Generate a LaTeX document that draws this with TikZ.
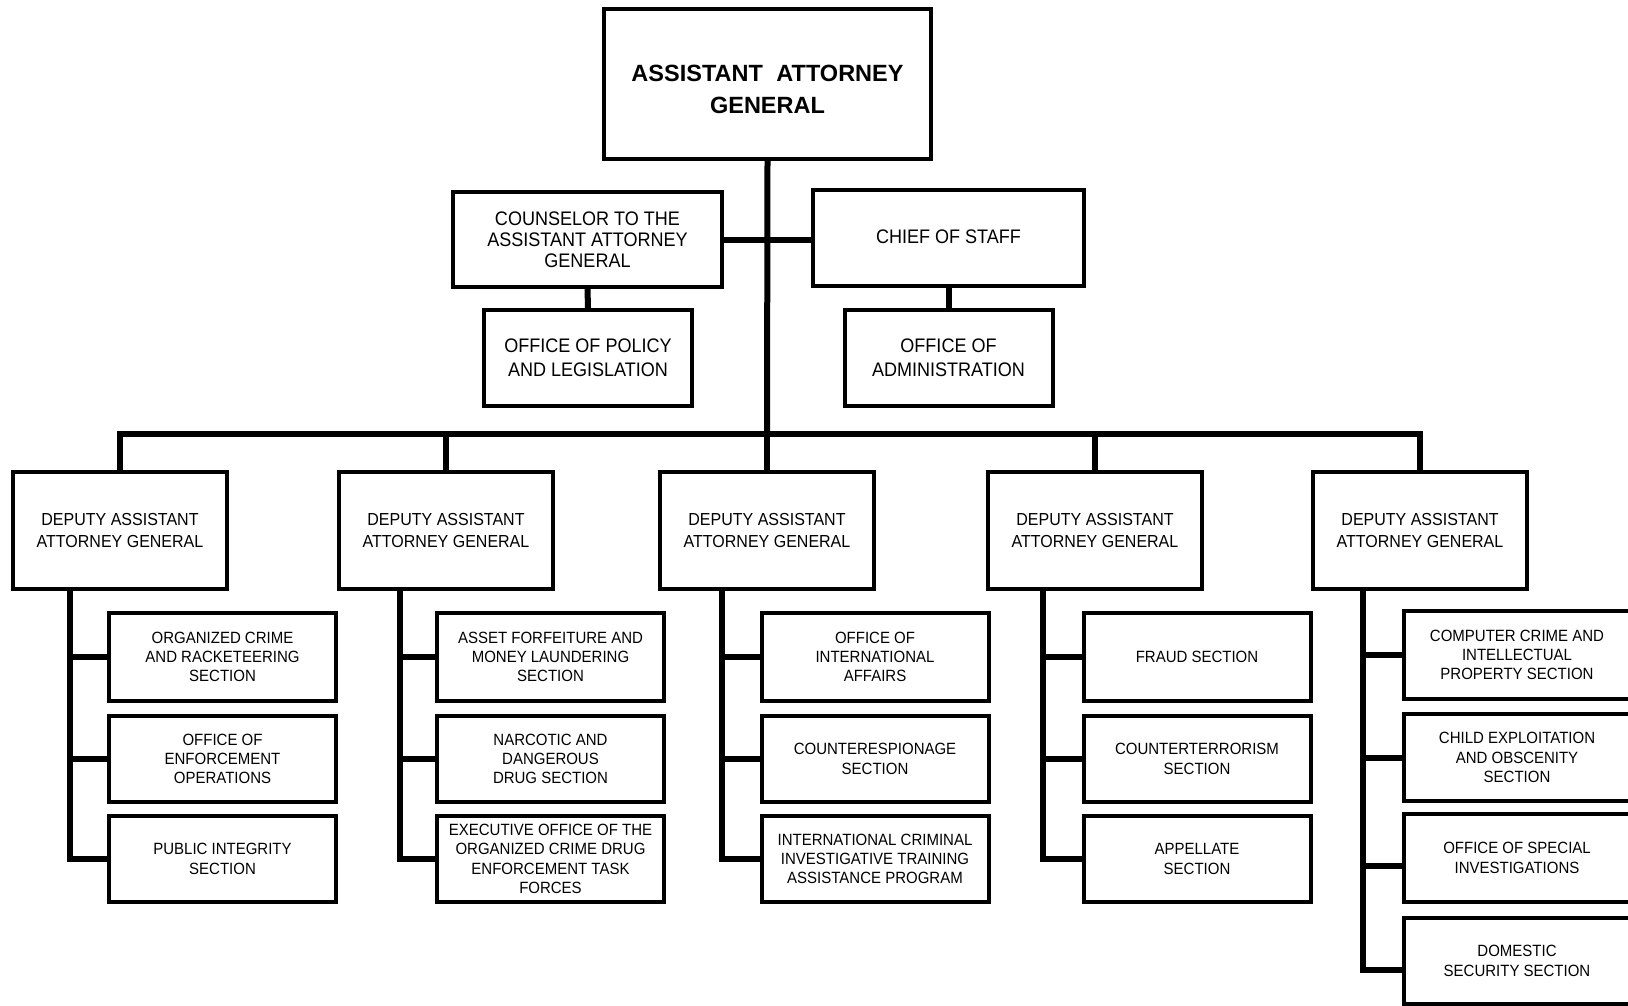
\documentclass[tikz,border=0pt]{standalone}
\usepackage{fontspec}
\setmainfont{Liberation Sans}
\newfontfamily\cf[FakeStretch=0.92]{Liberation Sans}
\tikzset{
  box/.style={draw, line width=4pt, inner sep=0pt, align=center},
  topbox/.style={box, minimum width=327, minimum height=150, font=\bfseries\fontsize{23.5}{32}\selectfont},
  midbox/.style={box, font=\cf\fontsize{19.6}{20.8}\selectfont},
  midlow/.style={box, minimum width=208, minimum height=96, font=\cf\fontsize{19.6}{24}\selectfont},
  depbox/.style={box, minimum width=214, minimum height=117, font=\cf\fontsize{17.4}{21.5}\selectfont},
  subbox/.style={box, minimum width=227, font=\cf\fontsize{16.3}{19.3}\selectfont},
  conn/.style={line width=6pt},
}
\begin{document}
\begin{tikzpicture}[x=1pt,y=-1pt]
\useasboundingbox (0,0) rectangle (1628,1006);
\clip (0,0) rectangle (1628,1006);
\fill[white] (0,0) rectangle (1628,1006);

% top level
\node[topbox] (aag) at (767.5,84) {\rule{0pt}{27pt}ASSISTANT\hspace{7pt} ATTORNEY\\GENERAL};
\node[midbox, minimum width=269, minimum height=95] (couns) at (587.5,239.5) {COUNSELOR TO THE\\ASSISTANT ATTORNEY\\GENERAL};
\node[midbox, minimum width=271, minimum height=96] (chief) at (948.5,238) {CHIEF OF STAFF\rule[-3pt]{0pt}{1pt}};
\node[midlow] (policy) at (588,358) {OFFICE OF POLICY\\AND LEGISLATION};
\node[midlow] (admin) at (948.5,357.5) {OFFICE OF\\ADMINISTRATION};

% deputies
\node[depbox] (dep1) at (120,530.5) {DEPUTY ASSISTANT\\ATTORNEY GENERAL};
\node[depbox] (dep2) at (446,530.5) {DEPUTY ASSISTANT\\ATTORNEY GENERAL};
\node[depbox] (dep3) at (767,530.5) {DEPUTY ASSISTANT\\ATTORNEY GENERAL};
\node[depbox] (dep4) at (1095,530.5) {DEPUTY ASSISTANT\\ATTORNEY GENERAL};
\node[depbox] (dep5) at (1420,530.5) {DEPUTY ASSISTANT\\ATTORNEY GENERAL};

% column 1
\node[subbox, minimum height=88] (a1) at (222.5,657) {ORGANIZED CRIME\\AND RACKETEERING\\SECTION};
\node[subbox, minimum height=86] (a2) at (222.5,759) {OFFICE OF\\ENFORCEMENT\\OPERATIONS};
\node[subbox, minimum height=86] (a3) at (222.5,859) {PUBLIC INTEGRITY\\SECTION};
% column 2
\node[subbox, minimum height=88] (b1) at (550.5,657) {ASSET FORFEITURE AND\\MONEY LAUNDERING\\SECTION};
\node[subbox, minimum height=86] (b2) at (550.5,759) {NARCOTIC AND\\DANGEROUS\\DRUG SECTION};
\node[subbox, minimum height=86] (b3) at (550.5,859) {EXECUTIVE OFFICE OF THE\\ORGANIZED CRIME DRUG\\ENFORCEMENT TASK\\FORCES};
% column 3
\node[subbox, minimum height=88] (c1) at (875,657) {OFFICE OF\\INTERNATIONAL\\AFFAIRS};
\node[subbox, minimum height=86] (c2) at (875,759) {COUNTERESPIONAGE\\SECTION};
\node[subbox, minimum height=86] (c3) at (875,859) {INTERNATIONAL CRIMINAL\\INVESTIGATIVE TRAINING\\ASSISTANCE PROGRAM};
% column 4
\node[subbox, minimum height=88] (d1) at (1197,657) {FRAUD SECTION};
\node[subbox, minimum height=86] (d2) at (1197,759) {COUNTERTERRORISM\\SECTION};
\node[subbox, minimum height=86] (d3) at (1197,859) {APPELLATE\\SECTION};
% column 5
\node[subbox, minimum height=88] (e1) at (1517,655) {COMPUTER CRIME AND\\INTELLECTUAL\\PROPERTY SECTION};
\node[subbox, minimum height=87] (e2) at (1517,757.5) {CHILD EXPLOITATION\\AND OBSCENITY\\SECTION};
\node[subbox, minimum height=88] (e3) at (1517,858) {OFFICE OF SPECIAL\\INVESTIGATIONS};
\node[subbox, minimum height=86] (e4) at (1517,961) {DOMESTIC\\SECURITY SECTION};

% connectors: upper part
\coordinate (bus) at (767,434);
\draw[conn] (aag.south) -- (bus);
\draw[conn] (couns.east) -- (couns.east -| chief.west);
\draw[conn] (couns.south) -- (policy.north);
\draw[conn] (chief.south) -- (chief.south |- admin.north);
\draw[conn] (dep1.north) -- (dep1.north |- bus) -- (dep5.north |- bus) -- (dep5.north);
\foreach \d in {dep2,dep3,dep4} \draw[conn] (\d.north) -- (\d.north |- bus);

% spines
\coordinate (s1) at (70,0);
\coordinate (s2) at (400,0);
\coordinate (s3) at (722,0);
\coordinate (s4) at (1043,0);
\coordinate (s5) at (1363,0);
\draw[conn] (dep1.south -| s1) |- (a3.west);
\draw[conn] (a1.west) -- (a1.west -| s1);
\draw[conn] (a2.west) -- (a2.west -| s1);
\draw[conn] (dep2.south -| s2) |- (b3.west);
\draw[conn] (b1.west) -- (b1.west -| s2);
\draw[conn] (b2.west) -- (b2.west -| s2);
\draw[conn] (dep3.south -| s3) |- (c3.west);
\draw[conn] (c1.west) -- (c1.west -| s3);
\draw[conn] (c2.west) -- (c2.west -| s3);
\draw[conn] (dep4.south -| s4) |- (d3.west);
\draw[conn] (d1.west) -- (d1.west -| s4);
\draw[conn] (d2.west) -- (d2.west -| s4);
\draw[conn] (dep5.south -| s5) |- ([yshift=-9pt]e4.west);
\draw[conn] (e1.west) -- (e1.west -| s5);
\draw[conn] (e2.west) -- (e2.west -| s5);
\draw[conn] ([yshift=-8pt]e3.west) -- ([yshift=-8pt]e3.west -| s5);
\end{tikzpicture}
\end{document}
